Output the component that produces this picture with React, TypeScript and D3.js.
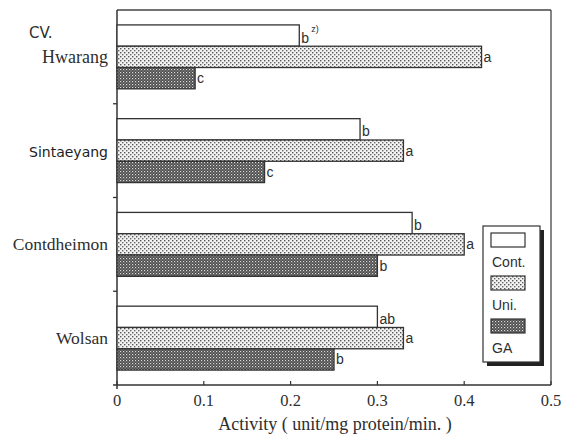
import React from "react";
import { scaleBand, scaleLinear } from "d3";

const cultivars = ["Hwarang", "Sintaeyang", "Contdheimon", "Wolsan"];
const treatments = ["Cont.", "Uni.", "GA"];
const contValues = [0.21, 0.28, 0.34, 0.3];
const uniValues = [0.42, 0.33, 0.4, 0.33];
const gaValues = [0.09, 0.17, 0.3, 0.25];
const contLetters = ["b", "b", "b", "ab"];
const uniLetters = ["a", "a", "a", "a"];
const gaLetters = ["c", "c", "b", "b"];
const xTicks = [0, 0.1, 0.2, 0.3, 0.4, 0.5];

const width = 571;
const height = 434;
const margin = { top: 10, right: 20, bottom: 49, left: 117 };

const serif = "'Liberation Serif', 'Times New Roman', serif";
const sans = "'Liberation Sans', Arial, sans-serif";
const ink = "#2e2e2e";

const fills = ["#fff", "url(#uni)", "url(#ga)"];

const App = () => {
  const x = scaleLinear()
    .domain([0, 0.5])
    .range([margin.left, width - margin.right]);
  const y0 = scaleBand()
    .domain(cultivars)
    .range([margin.top, height - margin.bottom]);
  const y1 = scaleBand()
    .domain(treatments)
    .range([0, y0.bandwidth()])
    .paddingOuter(0.7);

  const series = [contValues, uniValues, gaValues];
  const letters = [contLetters, uniLetters, gaLetters];
  const x0 = x(0);
  const xEnd = x(0.5);
  const yTop = margin.top;
  const yBottom = height - margin.bottom;

  return (
    <svg
      width={width}
      height={height}
      style={{ position: "absolute", left: 0, top: 0, background: "#fff" }}
    >
      <defs>
        <pattern id="uni" width="4" height="4" patternUnits="userSpaceOnUse">
          <rect width="4" height="4" fill="#f2f2f2" />
          <rect x="0" y="0" width="1.4" height="1.4" fill="#555" />
          <rect x="2" y="2" width="1.4" height="1.4" fill="#666" />
        </pattern>
        <pattern id="ga" width="3" height="3" patternUnits="userSpaceOnUse">
          <rect width="3" height="3" fill="#4a4a4a" />
          <rect x="0" y="0" width="1.2" height="1.2" fill="#ddd" />
          <rect x="1.5" y="1.5" width="1.1" height="1.1" fill="#aaa" />
        </pattern>
      </defs>

      {/* frame */}
      <line x1={x0} x2={xEnd} y1={yTop} y2={yTop} stroke="#444" strokeWidth={1.3} />
      <line x1={xEnd} x2={xEnd} y1={yTop} y2={yBottom} stroke="#444" strokeWidth={1.3} />
      <line x1={x0} x2={x0} y1={yTop} y2={yBottom + 4} stroke="#333" strokeWidth={1.5} />
      <line x1={x0 - 4} x2={xEnd} y1={yBottom} y2={yBottom} stroke="#333" strokeWidth={1.5} />

      {/* y ticks at band edges */}
      {cultivars.slice(1).map((c) => (
        <line
          key={c}
          x1={x0 - 4}
          x2={x0}
          y1={y0(c)}
          y2={y0(c)}
          stroke="#333"
          strokeWidth={1.3}
        />
      ))}

      {/* x ticks */}
      {xTicks.map((t) => (
        <g key={t}>
          <line x1={x(t)} x2={x(t)} y1={yBottom - 4} y2={yBottom} stroke="#333" strokeWidth={1.2} />
          <text
            x={x(t)}
            y={yBottom + 21}
            textAnchor="middle"
            fontFamily={serif}
            fontSize={16.5}
            fill={ink}
          >
            {t === 0 ? "0" : String(t)}
          </text>
        </g>
      ))}
      <text
        x={335}
        y={430}
        textAnchor="middle"
        fontFamily={serif}
        fontSize={18}
        fill={ink}
      >
        Activity ( unit/mg protein/min. )
      </text>

      {/* bars */}
      {cultivars.map((c, i) => (
        <g key={c}>
          {treatments.map((t, j) => {
            const v = series[j][i];
            const by = (y0(c) as number) + (y1(t) as number);
            const bh = y1.bandwidth();
            return (
              <g key={t}>
                <rect
                  x={x0}
                  y={by}
                  width={x(v) - x0}
                  height={bh}
                  fill={fills[j]}
                  stroke="#333"
                  strokeWidth={1.3}
                />
                <text
                  x={x(v) + 2}
                  y={by + bh / 2 + (j === 0 ? 7 : 5)}
                  fontFamily={sans}
                  fontSize={14}
                  fill={ink}
                >
                  {letters[j][i]}
                </text>
              </g>
            );
          })}
          <text
            x={108}
            y={(y0(c) as number) + y0.bandwidth() / 2 + 6}
            textAnchor="end"
            fontFamily={c === "Sintaeyang" ? "'DejaVu Sans', sans-serif" : serif}
            fontSize={c === "Sintaeyang" ? 14 : c === "Hwarang" ? 18 : 17.5}
            fill={c === "Sintaeyang" ? "#222" : ink}
          >
            {c}
          </text>
        </g>
      ))}
      <text
        x={x(contValues[0]) + 12}
        y={(y0(cultivars[0]) as number) + (y1("Cont.") as number) + 7}
        fontFamily={sans}
        fontSize={9}
        fill={ink}
      >
        z)
      </text>

      <text x={29} y={38} fontFamily="'DejaVu Sans', sans-serif" fontSize={15} fill={ink}>
        CV.
      </text>

      {/* legend */}
      <g>
        <rect x={487} y={230} width={57} height={136} fill="#222" />
        <rect x={483} y={226} width={57} height={136} fill="#fff" stroke="#333" strokeWidth={1.2} />
        {treatments.map((t, j) => (
          <g key={t}>
            <rect
              x={491}
              y={233 + j * 43}
              width={34}
              height={14}
              fill={fills[j]}
              stroke="#333"
              strokeWidth={1.2}
            />
            <text x={492} y={267 + j * 43} fontFamily={sans} fontSize={14} fill={ink}>
              {t}
            </text>
          </g>
        ))}
      </g>
    </svg>
  );
};

export default App;
